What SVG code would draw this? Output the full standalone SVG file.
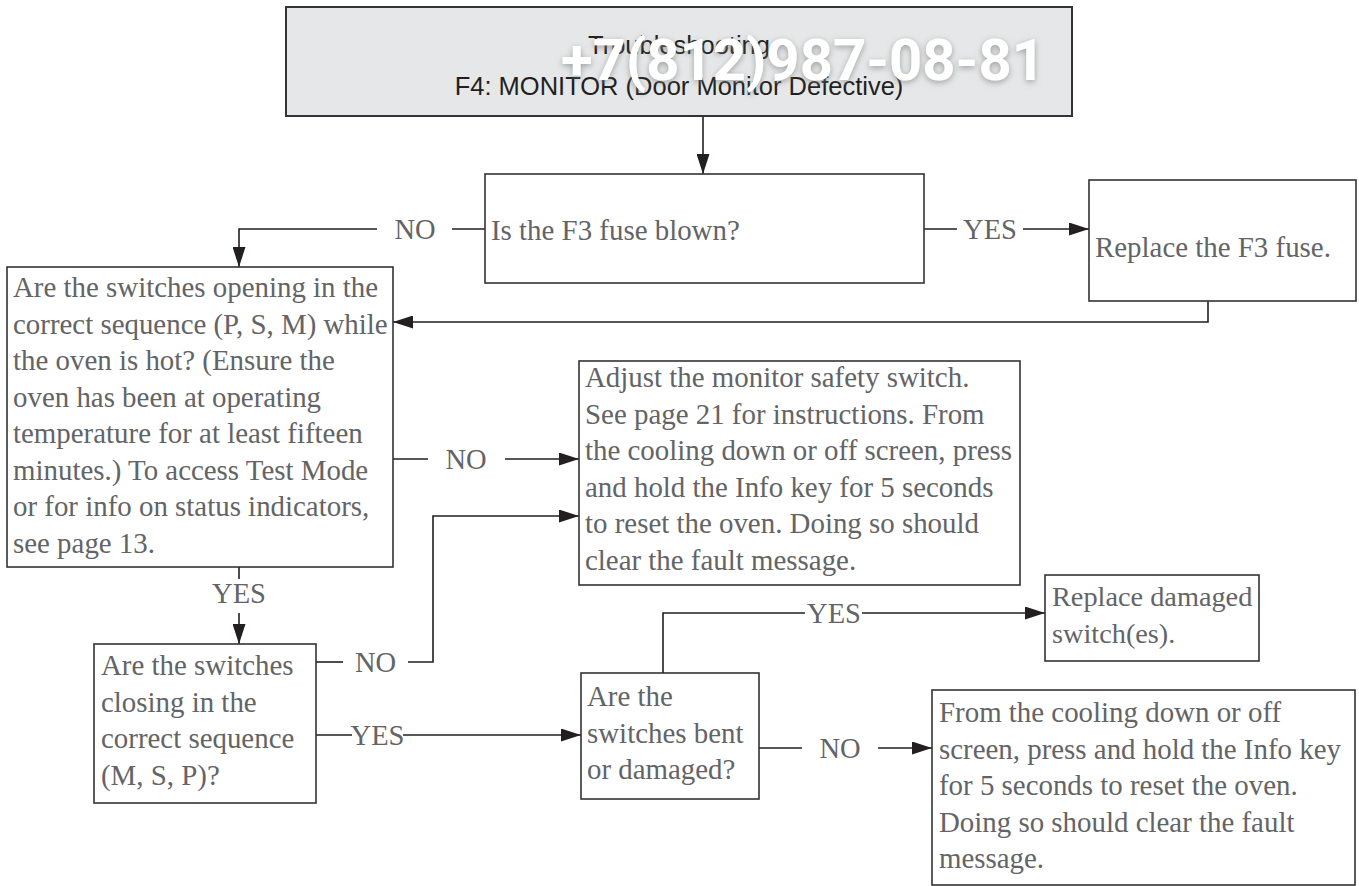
<svg xmlns="http://www.w3.org/2000/svg" width="1359" height="886" viewBox="0 0 1359 886">
<style>
.box{fill:#ffffff;stroke:#333333;stroke-width:1.6}
.title{fill:#e6e7e8;stroke:#333333;stroke-width:2}
.t{font-family:"Liberation Serif","Times New Roman",serif;font-size:28.9px;fill:#636466}
.ts{font-size:28.3px}
.lab{font-family:"Liberation Serif","Times New Roman",serif;font-size:28.5px;fill:#636466;text-anchor:middle}
.tt{font-family:"Liberation Sans",Arial,sans-serif;font-size:25.5px;fill:#231f20;text-anchor:middle}
.wm{font-family:Roboto,"Liberation Sans",sans-serif;font-weight:bold;font-size:58px;fill:#ffffff;text-anchor:middle}
.c{fill:none;stroke:#231f20;stroke-width:1.6}
.ca{fill:none;stroke:#231f20;stroke-width:1.6;marker-end:url(#ah)}
</style>
<defs>
<marker id="ah" viewBox="0 0 20 13" refX="20" refY="6.5" markerWidth="20" markerHeight="13" markerUnits="userSpaceOnUse" orient="auto">
<path d="M0,0 L20,6.5 L0,13 z" fill="#231f20"/>
</marker>
<filter id="sh" x="-10%" y="-30%" width="120%" height="160%">
<feGaussianBlur in="SourceAlpha" stdDeviation="3"/>
<feOffset dx="0" dy="2" result="b"/>
<feFlood flood-color="#808080" flood-opacity="0.7"/>
<feComposite in2="b" operator="in"/>
<feMerge><feMergeNode/><feMergeNode in="SourceGraphic"/></feMerge>
</filter>
</defs>

<g id="connectors">
<path class="ca" d="M703,116 V174"/>
<path class="c" d="M485,229 H452"/>
<path class="ca" d="M377,229 H239 V267"/>
<text class="lab" x="415" y="239">NO</text>
<path class="c" d="M924,229 H957"/>
<path class="ca" d="M1023,229 H1089"/>
<text class="lab" x="990" y="239">YES</text>
<path class="ca" d="M1208,301 V322 H393"/>
<path class="c" d="M393,459 H428"/>
<path class="ca" d="M505,459 H579"/>
<text class="lab" x="466" y="469">NO</text>
<path class="c" d="M239,567 V579"/>
<path class="ca" d="M239,613 V644"/>
<text class="lab" x="239" y="603">YES</text>
<path class="c" d="M316,662 H343"/>
<path class="ca" d="M408,662 H433 V516 H579"/>
<text class="lab" x="375.5" y="672">NO</text>
<path class="c" d="M316,735 H352"/>
<path class="ca" d="M403,735 H581"/>
<text class="lab" x="377.5" y="745">YES</text>
<path class="c" d="M663,673 V613 H805"/>
<path class="ca" d="M862,613 H1045"/>
<text class="lab" x="834" y="623">YES</text>
<path class="c" d="M759,748 H802"/>
<path class="ca" d="M878,748 H932"/>
<text class="lab" x="840" y="758">NO</text>
</g>

<g id="title">
<rect class="title" x="286" y="7" width="786" height="109"/>
<text class="tt" x="679" y="54">Troubleshooting</text>
<text class="tt" x="679" y="95">F4: MONITOR (Door Monitor Defective)</text>
<text class="wm" x="803" y="80" filter="url(#sh)">+7(812)987-08-81</text>
</g>

<g id="f3">
<rect class="box" x="485" y="174" width="439" height="109"/>
<text class="t" x="491" y="240">Is the F3 fuse blown?</text>
</g>

<g id="replace-f3">
<rect class="box" x="1089" y="180" width="267" height="121"/>
<text class="t" x="1095" y="257">Replace the F3 fuse.</text>
</g>

<g id="opening">
<rect class="box" x="7" y="267" width="386" height="300"/>
<text class="t" x="13" y="297">Are the switches opening in the</text>
<text class="t" x="13" y="333.5">correct sequence (P, S, M) while</text>
<text class="t" x="13" y="370">the oven is hot? (Ensure the</text>
<text class="t" x="13" y="406.5">oven has been at operating</text>
<text class="t" x="13" y="443">temperature for at least fifteen</text>
<text class="t" x="13" y="479.5">minutes.) To access Test Mode</text>
<text class="t" x="13" y="516">or for info on status indicators,</text>
<text class="t" x="13" y="552.5">see page 13.</text>
</g>

<g id="adjust">
<rect class="box" x="579" y="361" width="441" height="224"/>
<text class="t" x="585" y="387">Adjust the monitor safety switch.</text>
<text class="t" x="585" y="423.5">See page 21 for instructions. From</text>
<text class="t" x="585" y="460">the cooling down or off screen, press</text>
<text class="t" x="585" y="496.5">and hold the Info key for 5 seconds</text>
<text class="t" x="585" y="533">to reset the oven. Doing so should</text>
<text class="t" x="585" y="569.5">clear the fault message.</text>
</g>

<g id="closing">
<rect class="box" x="94" y="644" width="222" height="159"/>
<text class="t" x="101" y="675">Are the switches</text>
<text class="t" x="101" y="711.5">closing in the</text>
<text class="t" x="101" y="748">correct sequence</text>
<text class="t" x="101" y="784.5">(M, S, P)?</text>
</g>

<g id="bent">
<rect class="box" x="581" y="673" width="178" height="126"/>
<text class="t" x="587" y="706">Are the</text>
<text class="t" x="587" y="742.5">switches bent</text>
<text class="t" x="587" y="779">or damaged?</text>
</g>

<g id="replace-damaged">
<rect class="box" x="1045" y="575" width="214" height="86"/>
<text class="t ts" x="1052" y="606">Replace damaged</text>
<text class="t ts" x="1052" y="643">switch(es).</text>
</g>

<g id="reset">
<rect class="box" x="932" y="690" width="423" height="195"/>
<text class="t" x="939" y="722">From the cooling down or off</text>
<text class="t" x="939" y="758.5">screen, press and hold the Info key</text>
<text class="t" x="939" y="795">for 5 seconds to reset the oven.</text>
<text class="t" x="939" y="831.5">Doing so should clear the fault</text>
<text class="t" x="939" y="868">message.</text>
</g>
</svg>
